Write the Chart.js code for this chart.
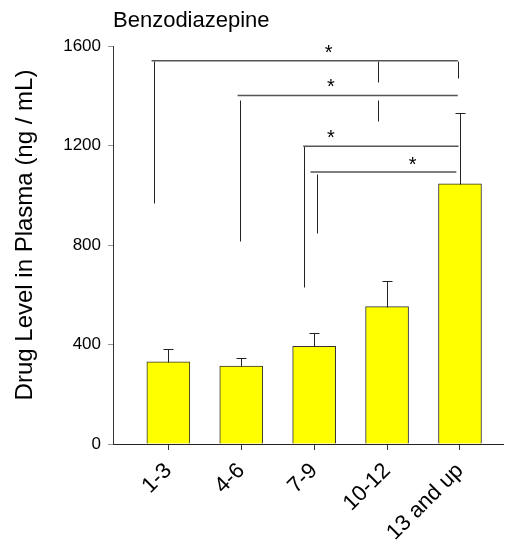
<!DOCTYPE html>
<html>
<head>
<meta charset="utf-8">
<script src="https://cdn.jsdelivr.net/npm/chart.js@4.4.1/dist/chart.umd.min.js"></script>
<style>
  html, body { margin: 0; padding: 0; background: #fff; }
  #wrap { width: 505px; height: 544px; }
</style>
</head>
<body>
<div id="wrap"><canvas id="plasmaChart"></canvas></div>
<script>
const ageGroups = ['1-3', '4-6', '7-9', '10-12', '13 and up']
const meanLevel = [330, 313, 393, 552, 1046]
const semLevel = [53, 31, 53, 104, 284]
const yTicks = [0, 400, 800, 1200, 1600]

// significance brackets; x is in group units (1 = first group)
const sigLevel = [1541, 1401, 1197, 1093]
const sigFromX = [0.77, 1.95, 2.85, 2.95]
const sigToX = [4.97, 4.97, 4.98, 4.95]
const sigDropX = [0.81, 1.98, 2.86, 3.04]
const sigDropTop = [1541, 1381, 1197, 1084]
const sigDropEnd = [970, 817, 633, 848]
const sideTickX = [4.97, 3.87, 3.87]
const sideTickTop = [1541, 1541, 1381]
const sideTickEnd = [1470, 1457, 1297]
const starX = [3.2, 3.23, 3.23, 4.35]
const starY = [1593, 1457, 1250, 1142]

const FONT = "'Liberation Sans', Arial, sans-serif"

const whiskersAndBrackets = {
  id: 'whiskersAndBrackets',
  afterDatasetsDraw(chart) {
    const { ctx, scales: { x, y } } = chart
    const px = v => Math.round(x.getPixelForValue(v)) + 0.5
    const py = v => Math.round(y.getPixelForValue(v)) + 0.5
    ctx.save()
    ctx.lineWidth = 1
    ctx.strokeStyle = '#222'

    // upper error whiskers
    meanLevel.forEach((m, i) => {
      const cx = px(i + 1)
      const top = py(m + semLevel[i])
      ctx.beginPath()
      ctx.moveTo(cx, py(m))
      ctx.lineTo(cx, top)
      ctx.moveTo(cx - 5, top)
      ctx.lineTo(cx + 5, top)
      ctx.stroke()
    })

    // bracket drops
    ctx.beginPath()
    sigLevel.forEach((lv, i) => {
      ctx.moveTo(px(sigDropX[i]), py(sigDropTop[i]))
      ctx.lineTo(px(sigDropX[i]), py(sigDropEnd[i]))
    })
    sideTickX.forEach((sx, i) => {
      ctx.moveTo(px(sx), py(sideTickTop[i]))
      ctx.lineTo(px(sx), py(sideTickEnd[i]))
    })
    ctx.stroke()

    // bracket bars
    ctx.strokeStyle = '#555'
    ctx.lineWidth = 1.5
    ctx.beginPath()
    sigLevel.forEach((lv, i) => {
      ctx.moveTo(x.getPixelForValue(sigFromX[i]), y.getPixelForValue(lv))
      ctx.lineTo(x.getPixelForValue(sigToX[i]), y.getPixelForValue(lv))
    })
    ctx.stroke()

    // stars
    ctx.fillStyle = '#000'
    ctx.font = '20px ' + FONT
    ctx.textAlign = 'center'
    ctx.textBaseline = 'alphabetic'
    starX.forEach((sx, i) => {
      ctx.fillText('*', x.getPixelForValue(sx), y.getPixelForValue(starY[i]) + 11)
    })
    ctx.restore()
  }
}

new Chart(document.getElementById('plasmaChart'), {
  type: 'bar',
  data: {
    datasets: [{
      data: meanLevel.map((m, i) => ({ x: i + 1, y: m })),
      backgroundColor: '#ffff00',
      borderColor: '#333',
      borderWidth: 1,
      borderSkipped: 'bottom',
      barThickness: 43
    }]
  },
  options: {
    animation: false,
    responsive: true,
    maintainAspectRatio: false,
    layout: { padding: { left: 0, right: 2, top: 0, bottom: 0 } },
    plugins: {
      legend: { display: false },
      tooltip: { enabled: false },
      title: {
        display: true,
        text: 'Benzodiazepine',
        align: 'start',
        fullSize: false,
        color: '#000',
        font: { family: FONT, size: 22, weight: 'normal' },
        padding: { top: 8, bottom: 11.6 }
      }
    },
    scales: {
      x: {
        type: 'linear',
        min: 0.241,
        max: 5.59,
        offset: false,
        afterFit: s => { s.height = 100 },
        afterBuildTicks: s => { s.ticks = ageGroups.map((_, i) => ({ value: i + 1 })) },
        grid: { display: true, offset: false, drawOnChartArea: false, tickLength: 6, tickColor: '#333' },
        border: { display: true, color: '#222', width: 1 },
        ticks: {
          autoSkip: false,
          minRotation: 45,
          maxRotation: 45,
          padding: 8,
          color: '#000',
          font: { family: FONT, size: 22 },
          callback: v => ageGroups[v - 1]
        }
      },
      y: {
        min: 0,
        max: 1600,
        afterFit: s => { s.width = 113 },
        afterBuildTicks: s => { s.ticks = yTicks.map(v => ({ value: v })) },
        grid: { display: true, drawOnChartArea: false, tickLength: 5, tickColor: '#999' },
        border: { display: true, color: '#333', width: 1 },
        ticks: {
          padding: 7,
          color: '#000',
          font: { family: FONT, size: 17 },
          callback: v => String(v)
        },
        title: {
          display: true,
          text: '   Drug Level in Plasma (ng / mL)',
          color: '#000',
          font: { family: FONT, size: 24 },
          padding: { top: 11, bottom: 0 }
        }
      }
    }
  },
  plugins: [whiskersAndBrackets]
})
</script>
</body>
</html>
